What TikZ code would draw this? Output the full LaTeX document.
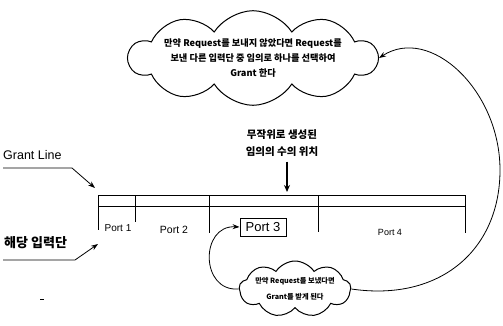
\documentclass[tikz,border=0pt]{standalone}
\usepackage{fontspec}
\setmainfont{Liberation Sans}
\newfontfamily\kr{Noto Sans CJK KR}
\usetikzlibrary{shapes.symbols,arrows.meta}
\begin{document}
\begin{tikzpicture}[x=1pt,y=-1pt,
  barline/.style={line width=1pt},
  arr/.style={line width=0.8pt,-{Stealth[length=7pt,width=5pt]}},
  cloudbox/.style={cloud, draw, line width=1pt, cloud ignores aspect, align=center, inner sep=0pt},
  lbl/.style={inner sep=0pt}
]
\useasboundingbox (0,0) rectangle (503,326);

% clouds
\node[cloudbox, cloud puffs=10, cloud puff arc=115, minimum width=214pt, minimum height=72pt,
      font=\kr\bfseries\fontsize{9.2}{15}\selectfont] (topc) at (253,58)
  {만약 Request를 보내지 않았다면 Request를\\보낸 다른 입력단 중 임의로 하나를 선택하여\\Grant 한다};
\node[cloudbox, cloud puffs=9, cloud puff arc=115, minimum width=86pt, minimum height=56pt,
      font=\kr\bfseries\fontsize{7.2}{16}\selectfont] (botc) at (295,289)
  {만약 Request를 보냈다면\\Grant를 받게 된다};

% random position label
\node[lbl, align=center, font=\kr\bfseries\fontsize{10.5}{17}\selectfont] (rnd) at (282,143)
  {무작위로 생성된\\임의의 수의 위치};
\coordinate (rt) at (287,192);
\draw[line width=2pt,-{Stealth[length=7pt,width=6pt]}] ([yshift=-5pt]rnd.south -| rt) -- (rt);

% bar
\draw[barline] (98,195) -- (465,195);
\draw[barline] (98,206) -- (465,206);
\draw[barline] (98,195) -- (98,230);
\draw[barline] (135,195) -- (135,222);
\draw[barline] (209,195) -- (209,233);
\draw[barline] (318,195) -- (318,232);
\draw[barline] (465,195) -- (465,233);

% port labels
\node[lbl, font=\fontsize{10}{12}\selectfont] (p1) at (118,228) {Port 1};
\node[lbl, font=\fontsize{10.5}{12}\selectfont] (p2) at (174,230) {Port 2};
\node[draw, line width=1pt, minimum width=46pt, minimum height=18pt, inner sep=1pt,
      font=\fontsize{13}{14}\selectfont] (p3) at (263,227) {Port 3};
\node[lbl, font=\fontsize{9}{11}\selectfont] (p4) at (390,232) {Port 4};

% Grant Line
\node[lbl, anchor=west, font=\fontsize{12.5}{14}\selectfont] (gl) at (3,155) {Grant Line};
\coordinate (gl0) at (3,168);
\coordinate (gl1) at (72,168);
\coordinate (glt) at (95,188);
\draw[arr] (gl0) -- (gl1) -- (glt);

% input label
\node[lbl, anchor=west, font=\kr\bfseries\fontsize{13}{15}\selectfont] (inp) at (4,243) {해당 입력단};
\coordinate (in0) at (3,260);
\coordinate (in1) at (75,260);
\coordinate (int) at (98,244);
\draw[arr] (in0) -- (in1) -- (int);

% curved arrows
\draw[arr] (botc.east) .. controls (440,302) and (500,250) .. (500,170)
  .. controls (500,90) and (430,25) .. (topc.east);
\draw[arr] (botc.west) .. controls (200,292) and (200,225) .. (p3.west);

% small stray mark
\draw[line width=0.8pt] (40,299) -- (44,299);
\end{tikzpicture}
\end{document}
